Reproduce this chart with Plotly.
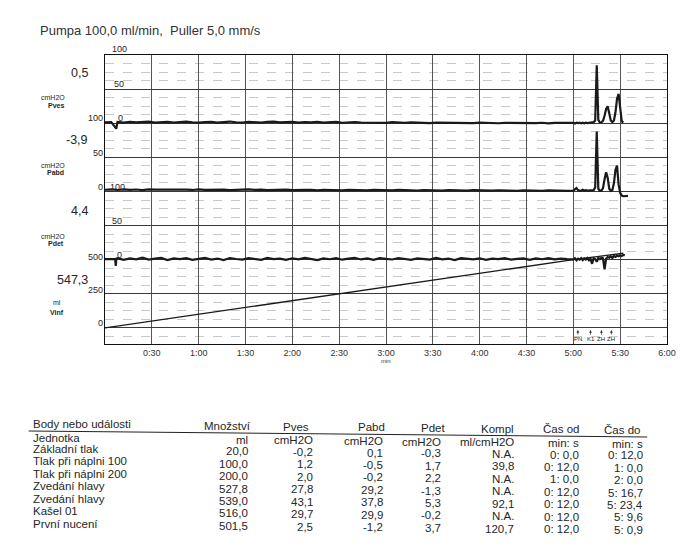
import plotly.graph_objects as go

FONT = "Liberation Sans, Arial, sans-serif"
INK = "#1a1a1a"

# ---------------- chart data ----------------
# each channel: a short start segment, a 4-s baseline from t=8 s, and a 1-s segment from t=300 s
pves_head_t = [0, 4, 7.2, 7.6]
pves_head_v = [1.2, 1.6, -8.0, 1.5]
pves_base = [1.8, 0.9, 2.1, 1.2, 1.6, 2.3, 0.8, 1.5, 2.0, 1.1, 1.9, 2.4, 1.3, 0.9, 1.8, 2.2, 1.0, 1.7, 2.5, 1.4,
             1.1, 2.0, 1.6, 0.8, 1.9, 2.3, 1.2, 1.5, 2.1, 0.9, 1.7, 1.3, 2.2, 1.0, 1.6, 1.9, 0.7, 1.4, 1.8, 1.1,
             0.8, 1.6, 1.2, 0.6, 1.5, 1.0, 0.4, 1.3, 0.9, 1.2, 0.3, 1.0, 0.7, 1.1, 0.2, 0.9, 0.5, 0.1, 0.8, 0.4,
             0.9, 0.0, 0.6, 0.3, 0.8, -0.1, 0.5, 0.2, 0.7, -0.2, 0.4, 0.6, 0.0]
pves_end = [0.6, -0.3, 0.8, 0.1, 0.9, -0.2, 0.7, 0.0, 1.0, 0.3, 0.8, 0.2, 1.2, 1.5, 4.0,
            85.0, 5.0, 1.0, 1.5, 3.5, 11.0, 21.0, 25.0, 15.0, 4.0, 1.5, 4.0, 16.0, 36.0, 43.0,
            22.0, 3.0, 1.0]

pabd_head_t = [0, 4]
pabd_head_v = [2.5, 3.0]
pabd_base = [2.2, 3.1, 2.4, 2.9, 2.0, 3.2, 2.6, 2.8, 2.1, 3.0, 2.5, 2.7, 2.2,
             3.1, 2.4, 2.9, 2.3, 2.8, 2.0, 2.6, 2.4, 3.0, 2.2, 2.7, 1.9, 2.5, 2.3, 2.8,
             2.0, 2.6, 2.2, 2.4, 1.8, 2.5, 2.1, 2.3, 1.7, 2.4, 2.0, 2.2, 1.6, 2.3, 1.9,
             2.1, 1.5, 2.2, 1.8, 2.0, 1.4, 2.1, 1.7, 1.9, 1.3, 2.0, 1.6, 1.8, 1.2, 1.9,
             1.5, 1.7, 1.1, 1.8, 1.4, 1.6, 1.0, 1.7, 1.3, 1.5, 0.9, 1.6, 1.2, 1.4, 1.0]
pabd_end = [1.2, 3.5, 5.0, 2.0, 1.0, 1.5, 2.5, 1.0, 1.8, 1.2, 1.5, 1.0, 1.4, 2.0, 6.0,
            88.0, 4.0, 1.0, 1.2, 5.0, 18.0, 28.0, 20.0, 4.0, 1.0, 2.0, 12.0, 32.0, 38.0, 10.0,
            -2.0, -6.0, -7.0, -6.5, -7.0, -6.5]

pdet_head_t = [0, 4, 6.5, 6.9, 7.3]
pdet_head_v = [1.0, 0.4, 1.0, -9.0, 1.5]
pdet_base = [2.4, -0.2, 1.8, 0.6, 2.9, 0.1, 1.5, 2.6, -0.5, 1.9, 0.8, 2.2, -0.1, 1.4, 2.8, 0.3, 1.7, -0.4, 2.5, 1.0,
             0.2, 2.3, 1.2, -0.3, 2.7, 0.9, 1.6, -0.2, 2.1, 0.5, 2.6, 1.3, -0.6, 1.9, 0.7, 2.4, 0.0, 1.5, 2.8, 0.4,
             1.8, -0.3, 2.2, 1.1, 0.3, 2.5, 0.8, -0.1, 2.0, 1.4, 0.2, 2.6, 0.6, 1.7, -0.4, 2.3, 1.0, 0.5, 2.1, -0.2,
             1.6, 0.9, 2.4, 0.1, 1.3, 2.0, -0.3, 1.8, 0.7, 2.2, 0.4, 1.5, 0.9]
pdet_end = [0.5, 2.0, -1.0, 1.5, 0.0, 2.2, -0.5, 1.8, 0.3, 2.5, -0.8, 1.5, -6.0, 2.0, 1.0,
            -3.0, 2.5, 1.0, 3.0, 2.0, -14.0, 1.5, 4.0, 3.0, 5.0, 2.5, 5.5, 4.0, 6.0, 5.0,
            6.5, 5.5, 7.0, 6.5]

vinf_t = [0, 60, 120, 180, 240, 300, 332]
vinf_v = [0.0, 100.0, 200.0, 300.0, 400.0, 500.0, 547.3]

tick_seconds = [30, 60, 90, 120, 150, 180, 210, 240, 270, 300, 330, 360]
tick_labels = ["0:30", "1:00", "1:30", "2:00", "2:30", "3:00", "3:30", "4:00",
               "4:30", "5:00", "5:30", "6:00"]

event_t = [302.9, 311.0, 318.0, 324.4]
event_lbl = ["PN", "K1", "ZH", "ZH"]

channel_names = ["Pves", "Pabd", "Pdet", "Vinf"]
channel_units = ["cmH2O", "cmH2O", "cmH2O", "ml"]
channel_values = ["0,5", "-3,9", "4,4", "547,3"]

# ---------------- table data ----------------
tab_events = ["Základní tlak", "Tlak při náplni 100", "Tlak při náplni 200", "Zvedání hlavy",
              "Zvedání hlavy", "Kašel 01", "První nucení"]
tab_headers = ["Množství", "Pves", "Pabd", "Pdet", "Kompl", "Čas od", "Čas do"]
tab_units = ["ml", "cmH2O", "cmH2O", "cmH2O", "ml/cmH2O", "min: s", "min: s"]
tab_mnozstvi = ["20,0", "100,0", "200,0", "527,8", "539,0", "516,0", "501,5"]
tab_pves = ["-0,2", "1,2", "2,0", "27,8", "43,1", "29,7", "2,5"]
tab_pabd = ["0,1", "-0,5", "-0,2", "29,2", "37,8", "29,9", "-1,2"]
tab_pdet = ["-0,3", "1,7", "2,2", "-1,3", "5,3", "-0,2", "3,7"]
tab_kompl = ["N.A.", "39,8", "N.A.", "N.A.", "92,1", "N.A.", "120,7"]
tab_cas_od = ["0: 0,0", "0: 12,0", "1: 0,0", "0: 12,0", "0: 12,0", "0: 12,0", "0: 12,0"]
tab_cas_do = ["0: 12,0", "1: 0,0", "2: 0,0", "5: 16,7", "5: 23,4", "5: 9,6", "5: 0,9"]


def series(head_t, head_v, base, end):
    t = list(head_t) + [8 + 4 * i for i in range(len(base))] + [300 + i for i in range(len(end))]
    return t, list(head_v) + base + end


# ---------------- layout geometry (page pixels; page body has 8px margin) ----------------
OFF = 8
W, H = 696 - 2 * OFF, 546 - 2 * OFF
L, T = 105 - OFF, 55 - OFF
R = W - (672 - OFF)
B = H - (344 - OFF)
PW, PH = W - L - R, H - T - B

V_LO, V_HI = -117.6, 2000.0


def chan_range(zero_v):
    # pressure channel: 0 at Vinf value zero_v, 100 at zero_v+500
    return [(V_LO - zero_v) / 5.0, (V_HI - zero_v) / 5.0]


def pxx(xp):
    return (xp - OFF - L) / PW


def pxy(yp):
    return (H - B - (yp - OFF)) / PH


fig = go.Figure()
line_style = dict(color=INK, width=2.2)
for (ht, hv, base, end), ax in [((pves_head_t, pves_head_v, pves_base, pves_end), "y2"),
                                ((pabd_head_t, pabd_head_v, pabd_base, pabd_end), "y3"),
                                ((pdet_head_t, pdet_head_v, pdet_base, pdet_end), "y4")]:
    t, v = series(ht, hv, base, end)
    fig.add_trace(go.Scatter(x=t, y=v, yaxis=ax, mode="lines", line=line_style,
                             showlegend=False, hoverinfo="skip"))
fig.add_trace(go.Scatter(x=vinf_t, y=vinf_v, yaxis="y", mode="lines",
                         line=dict(color=INK, width=1.3), showlegend=False, hoverinfo="skip"))

ann = []


def label(text, xp, yp, size, anchor="right", bold=False, color="#262626"):
    ann.append(dict(text=f"<b>{text}</b>" if bold else text, x=pxx(xp), y=pxy(yp),
                    xref="paper", yref="paper", xanchor=anchor, yanchor="middle",
                    showarrow=False, font=dict(size=size, color=color, family=FONT)))


# title
label("Pumpa 100,0 ml/min,\u00a0 Puller 5,0 mm/s", 37, 30, 13, anchor="left", color="#333")

# left channel blocks
val_y = [73, 140, 211, 280]
for i in range(4):
    label(channel_values[i], 90, val_y[i], 12.5)
    if channel_units[i] == "ml":
        label(channel_units[i], 63, val_y[i] + 22, 7)
    else:
        label(channel_units[i], 67, val_y[i] + 25, 7)
    label(channel_names[i], 66, val_y[i] + 32, 7, bold=True)

# outside scale labels
for txt, yp in [("100", 118), ("50", 153), ("0", 187), ("500", 257), ("250", 290), ("0", 323)]:
    label(txt, 105, yp, 9)
# inside scale labels
for txt, xp, yp in [("100", 110, 49), ("50", 112, 84), ("0", 116, 118),
                    ("100", 108, 187), ("50", 110, 221), ("0", 115, 255)]:
    label(txt, xp, yp, 9, anchor="left")

# "min" under 3:00
ann.append(dict(text="min", x=180, y=pxy(366), xref="x", yref="paper", showarrow=False,
                font=dict(size=6, color="#333", family=FONT)))

# event markers
for t, lb in zip(event_t, event_lbl):
    ann.append(dict(text=lb, x=t, y=-15, xref="x", yref="y", showarrow=True, ax=0, ay=9,
                    arrowhead=2, arrowsize=0.7, arrowwidth=0.8, arrowcolor="#333",
                    font=dict(size=6, color="#222", family=FONT)))

# ---------------- table ----------------
SLOPE = 0.01
TS = 11.5
label("Body nebo události", 30, 424, TS, anchor="left")
label("Jednotka", 30, 437.5, TS, anchor="left")
row_y = [449 + 12.45 * i for i in range(len(tab_events))]
for i, ev in enumerate(tab_events):
    label(ev, 30, row_y[i], TS, anchor="left")

col_right = [251, 317, 387, 446, 520, 585, 650]
col_head_c = [229, 298, 374, 436, 501, 565, 627]
cols = [tab_mnozstvi, tab_pves, tab_pabd, tab_pdet, tab_kompl, tab_cas_od, tab_cas_do]
for c in range(len(cols)):
    dy = (col_right[c] - 30) * SLOPE
    label(tab_headers[c], col_head_c[c], 424 + (col_head_c[c] - 30) * SLOPE, TS, anchor="center")
    label(tab_units[c], col_right[c], 437.5 + dy, TS)
    for i, v in enumerate(cols[c]):
        label(v, col_right[c], row_y[i] + dy, TS)

shapes = [dict(type="line", xref="paper", yref="paper", x0=pxx(28), x1=pxx(652),
               y0=pxy(431), y1=pxy(437), line=dict(color="#222", width=1))]

fig.update_layout(
    width=W, height=H,
    margin=dict(l=L, r=R, t=T, b=B, pad=0),
    paper_bgcolor="white", plot_bgcolor="white",
    font=dict(family=FONT, color="#262626"),
    showlegend=False,
    xaxis=dict(range=[0, 360], tickvals=tick_seconds, ticktext=tick_labels,
               showgrid=True, gridcolor="#555", gridwidth=1, zeroline=False,
               showline=True, mirror=True, linecolor="#111", linewidth=1.3,
               ticks="", tickfont=dict(size=9, color="#333"), fixedrange=True),
    yaxis=dict(range=[V_LO, V_HI], tick0=0, dtick=250, showgrid=True, gridcolor="#3a3a3a",
               gridwidth=1, zeroline=False, showticklabels=False, ticks="",
               showline=True, mirror=True, linecolor="#111", linewidth=1.3,
               minor=dict(dtick=62.5, showgrid=True, gridcolor="#c8c8c8", griddash="dash",
                          gridwidth=1)),
    yaxis2=dict(overlaying="y", range=chan_range(1500), visible=False),
    yaxis3=dict(overlaying="y", range=chan_range(1000), visible=False),
    yaxis4=dict(overlaying="y", range=chan_range(500), visible=False),
    annotations=ann,
    shapes=shapes,
)

fig.write_html("out.html")
